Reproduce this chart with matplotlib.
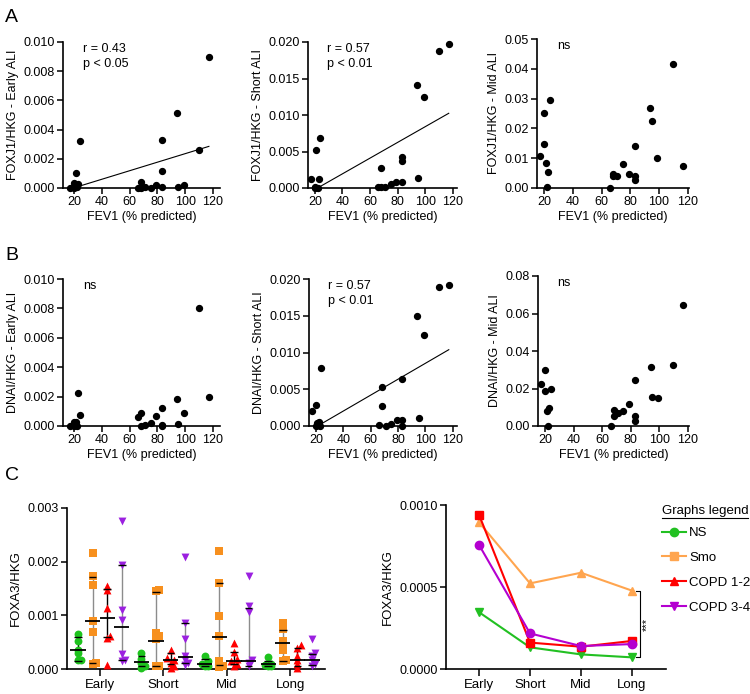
import numpy as np
import matplotlib
matplotlib.use('Agg')
import matplotlib.pyplot as plt
from matplotlib.lines import Line2D

plt.rcParams['font.family'] = ['Liberation Sans', 'DejaVu Sans']
plt.rcParams['font.size'] = 9

# FEV1 (% predicted) of the patients
fev1 = [17, 20, 20, 21, 22, 23, 24, 66, 68, 68, 71, 75, 79, 83, 83, 83, 94, 95, 99, 110, 117]

# panel A - FOXJ1/HKG
foxj1_early = [0.0, 0.00032, 0.0, 0.00105, 0.00007, 0.00025, 0.00324, 0.0, 0.0004, 0.0,
               0.00007, 0.0, 0.0002, 0.00326, 0.00119, 0.00007, 0.00514, 0.00007, 0.00023, 0.0026, 0.009]
foxj1_short = [0.00123, 0.0001, 0.0, 0.00525, 0.0, 0.00128, 0.00685, 0.0001, 0.0027, 0.0002,
               0.0001, 0.0006, 0.00078, 0.0042, 0.00375, 0.00087, 0.0141, 0.00137, 0.01247, 0.0188, 0.0197]
foxj1_mid = [0.0106, 0.0251, 0.0148, 0.0084, 0.0002, 0.0055, 0.0296, 0.0, 0.0046, 0.0041,
             0.0041, 0.0081, 0.0048, 0.0142, 0.0039, 0.0028, 0.0269, 0.0225, 0.01, 0.0415, 0.0073]

# panel B - DNAI/HKG
dnai_early = [0.0, 0.00025, 0.0, 0.0003, 0.0, 0.00222, 0.00075, 0.00059, 0.0009, 0.0,
              0.00007, 0.00018, 0.00068, 0.0012, 0.00007, 0.0, 0.00182, 0.00014, 0.0009, 0.00805, 0.00195]
dnai_short = [0.00205, 0.0, 0.0028, 0.00036, 0.0005, 0.0, 0.00795, 0.0001, 0.00527, 0.00277,
              0.00005, 0.0003, 0.0008, 0.0008, 0.00645, 0.0, 0.0149, 0.00105, 0.0124, 0.0189, 0.0192]
dnai_mid = [0.0226, 0.0297, 0.0185, 0.0082, 0.0002, 0.0094, 0.0196, 0.0002, 0.0085, 0.0053,
            0.0068, 0.008, 0.0116, 0.0244, 0.0055, 0.0028, 0.0313, 0.0156, 0.0148, 0.0327, 0.0647]

# panel C - FOXA3/HKG
times = ['Early', 'Short', 'Mid', 'Long']
groups = ['NS', 'Smo', 'COPD 1-2', 'COPD 3-4']
foxa3 = {
    'NS': [[0.00066, 0.00052, 0.00036, 0.0003, 0.00017, 0.00017],
           [0.0003, 0.00018, 0.00012, 0.00006, 0.00002],
           [0.00024, 0.00014, 0.0001, 0.00006, 0.00005],
           [0.00022, 0.0001, 0.00008, 0.00005, 0.00006]],
    'Smo': [[0.00217, 0.00173, 0.00157, 0.0009, 0.00069, 0.00011, 0.0001],
            [0.00148, 0.00145, 0.00067, 0.00061, 0.00055, 0.00006, 0.00005],
            [0.00219, 0.00161, 0.00099, 0.00061, 0.00014, 0.00006, 0.00004],
            [0.00086, 0.00075, 0.00052, 0.00045, 0.00035, 0.00017, 0.00014]],
    'COPD 1-2': [[0.00155, 0.00148, 0.00114, 0.00062, 0.00058, 0.00008],
                 [0.00036, 0.0002, 0.00017, 0.00012, 0.00005, 0.00002],
                 [0.00048, 0.00031, 0.00019, 0.00014, 0.0001, 0.00006],
                 [0.00045, 0.00039, 0.00024, 0.00017, 0.0001, 0.00002]],
    'COPD 3-4': [[0.00275, 0.00193, 0.0011, 0.00092, 0.00028, 0.00017, 0.00014],
                 [0.00209, 0.00086, 0.00055, 0.00024, 0.00017, 0.00011, 0.00008],
                 [0.00174, 0.00117, 0.00107, 0.00016, 0.00012, 0.00005],
                 [0.00055, 0.0003, 0.00024, 0.00017, 0.0001, 0.00006]],
}
foxa3_median = {'NS': [0.00035, 0.00013, 0.0001, 0.0001],
                'Smo': [0.0009, 0.00053, 0.0006, 0.00048],
                'COPD 1-2': [0.00095, 0.00017, 0.00014, 0.00017],
                'COPD 3-4': [0.00078, 0.00022, 0.00014, 0.00016]}
foxa3_q1 = {'NS': [0.00014, 0.00005, 0.00005, 0.00005],
            'Smo': [0.00011, 0.00005, 0.00008, 0.00014],
            'COPD 1-2': [0.0006, 0.0001, 0.0001, 0.00005],
            'COPD 3-4': [0.00017, 0.00011, 0.00005, 0.00007]}
foxa3_q3 = {'NS': [0.00059, 0.00024, 0.00018, 0.00015],
            'Smo': [0.00171, 0.00143, 0.0016, 0.00073],
            'COPD 1-2': [0.00149, 0.0003, 0.00031, 0.00039],
            'COPD 3-4': [0.00193, 0.00086, 0.00114, 0.00028]}
foxa3_mean = {'NS': [0.000346, 0.000132, 0.000089, 0.000071],
              'Smo': [0.000894, 0.000522, 0.000587, 0.000478],
              'COPD 1-2': [0.000939, 0.000161, 0.000136, 0.000171],
              'COPD 3-4': [0.000756, 0.000217, 0.00014, 0.000152]}

col_left = {'NS': '#1ec31e', 'Smo': '#f7901e', 'COPD 1-2': '#ff0000', 'COPD 3-4': '#9b20e0'}
mk_left = {'NS': 'o', 'Smo': 's', 'COPD 1-2': '^', 'COPD 3-4': 'v'}
bar_col = {'NS': 'black', 'Smo': '#8c8c8c', 'COPD 1-2': 'black', 'COPD 3-4': '#8c8c8c'}
col_right = {'NS': '#22c022', 'Smo': '#ffa54f', 'COPD 1-2': '#ff0000', 'COPD 3-4': '#b400d0'}
mk_right = {'NS': 'v', 'Smo': '^', 'COPD 1-2': 's', 'COPD 3-4': 'o'}

W, H = 750, 694


def box(l, r, t, b):
    return [l / W, 1 - b / H, (r - l) / W, (b - t) / H]


def style(ax, lsize=9):
    for s in ['top', 'right']:
        ax.spines[s].set_visible(False)
    for s in ['left', 'bottom']:
        ax.spines[s].set_linewidth(1.2)
    ax.tick_params(direction='out', length=4, width=1.1, labelsize=lsize, pad=2)


fig = plt.figure(figsize=(7.5, 6.94), dpi=100)

scatter_panels = [
    (box(63, 220, 42, 188), foxj1_early, 'FOXJ1/HKG - Early ALI', 0.010, 0.002, '%.3f', 'r = 0.43\np < 0.05', True, (12, 125)),
    (box(308, 457, 42, 188), foxj1_short, 'FOXJ1/HKG - Short ALI', 0.020, 0.005, '%.3f', 'r = 0.57\np < 0.01', True, (15, 123)),
    (box(537, 689, 39, 188), foxj1_mid, 'FOXJ1/HKG - Mid ALI', 0.05, 0.01, '%.2f', 'ns', False, (15, 121)),
    (box(63, 220, 279, 426), dnai_early, 'DNAI/HKG - Early ALI', 0.010, 0.002, '%.3f', 'ns', False, (12, 125)),
    (box(309, 457, 279, 426), dnai_short, 'DNAI/HKG - Short ALI', 0.020, 0.005, '%.3f', 'r = 0.57\np < 0.01', True, (15, 123)),
    (box(538, 689, 276, 426), dnai_mid, 'DNAI/HKG - Mid ALI', 0.08, 0.02, '%.2f', 'ns', False, (15, 121)),
]

for pos, yv, ylab, ymax, ystep, fmt, txt, fit, xl in scatter_panels:
    ax = fig.add_axes(pos)
    ax.scatter(fev1, yv, s=18, color='black', zorder=3, clip_on=False)
    if fit:
        b, a = np.polyfit(fev1, yv, 1)
        xs = np.array([min(fev1), max(fev1)])
        ax.plot(xs, a + b * xs, color='black', lw=0.8)
    ax.set_xlim(*xl)
    ax.set_ylim(0, ymax)
    ax.set_xticks([20, 40, 60, 80, 100, 120])
    ax.set_yticks(np.arange(0, ymax + ystep / 2, ystep))
    ax.yaxis.set_major_formatter(matplotlib.ticker.FormatStrFormatter(fmt))
    ax.set_xlabel('FEV1 (% predicted)', fontsize=9, labelpad=2)
    ax.set_ylabel(ylab, fontsize=9, labelpad=3)
    ax.text(0.13, 0.99, txt, transform=ax.transAxes, va='top', ha='left', fontsize=9, linespacing=1.3)
    style(ax)

fig.text(5 / W, 1 - 18 / H, 'A', fontsize=14, va='center')
fig.text(5 / W, 1 - 255 / H, 'B', fontsize=14, va='center')
fig.text(5 / W, 1 - 475 / H, 'C', fontsize=14, va='center')

# C left - dot plot with median and interquartile range
ax = fig.add_axes(box(67, 325, 508, 669))
x = np.arange(len(times))
off = 0.23
for gi, g in enumerate(groups):
    xc = x + (gi - 1.5) * off
    for ti in range(len(times)):
        vals = np.sort(foxa3[g][ti])
        n = len(vals)
        sp = np.zeros(n)
        for k in range(1, n):
            if vals[k] - vals[k - 1] < 0.00006:
                sp[k] = -sp[k - 1] if sp[k - 1] != 0 else 0.05
        ax.vlines(xc[ti], foxa3_q1[g][ti], foxa3_q3[g][ti], color=bar_col[g], lw=1.0, zorder=2)
        ax.scatter(xc[ti] + sp, vals, marker=mk_left[g], s=32, color=col_left[g], lw=0, zorder=3, clip_on=False)
        ax.hlines([foxa3_q1[g][ti], foxa3_q3[g][ti]], xc[ti] - 0.06, xc[ti] + 0.06, color='black', lw=1.0, zorder=4)
        ax.hlines(foxa3_median[g][ti], xc[ti] - 0.12, xc[ti] + 0.12, color='black', lw=1.3, zorder=4)
ax.set_xlim(-0.52, 3.55)
ax.set_ylim(0, 0.003)
ax.set_xticks(x)
ax.set_xticklabels(times)
ax.set_yticks([0, 0.001, 0.002, 0.003])
ax.yaxis.set_major_formatter(matplotlib.ticker.FormatStrFormatter('%.3f'))
ax.set_ylabel('FOXA3/HKG', fontsize=9.5, labelpad=4)
style(ax, 9)
ax.tick_params(axis='x', length=5, labelsize=9.5)

# C right - line plot
ax2 = fig.add_axes(box(446, 666, 505, 669))
for g in groups:
    ax2.plot(x, foxa3_mean[g], color=col_right[g], marker=mk_right[g], ms=6, lw=1.5, clip_on=False, zorder=3)
ax2.set_xlim(-0.65, 3.67)
ax2.set_ylim(0, 0.001)
ax2.set_xticks(x)
ax2.set_xticklabels(times)
ax2.set_yticks([0, 0.0005, 0.001])
ax2.yaxis.set_major_formatter(matplotlib.ticker.FormatStrFormatter('%.4f'))
ax2.set_ylabel('FOXA3/HKG', fontsize=9.5, labelpad=4)
style(ax2, 9)
ax2.tick_params(axis='x', length=5, labelsize=9.5)

# significance bracket
bx = 3.16
ytop = foxa3_mean['Smo'][3]
ybot = foxa3_mean['NS'][3]
ax2.plot([bx - 0.08, bx, bx, bx - 0.08], [ytop, ytop, ybot, ybot], color='black', lw=0.8, clip_on=False)
ax2.text(bx + 0.14, (ytop + ybot) / 2, '***', rotation=90, va='center', ha='center', fontsize=8)

# legend
handles = [Line2D([], [], color=col_right[g], marker=mk_left[g], ms=6, lw=1.5) for g in groups]
fig.legend(handles, groups, loc='upper left', bbox_to_anchor=(662 / W, 1 - 527 / H), frameon=False,
           fontsize=9.5, handlelength=1.8, handletextpad=0.25, labelspacing=0.95,
           borderpad=0, borderaxespad=0)
fig.text(662 / W, 1 - 511 / H, 'Graphs legend', fontsize=9.5, va='center')
fig.add_artist(Line2D([662 / W, 748 / W], [1 - 518 / H, 1 - 518 / H], color='black', lw=0.8))

fig.savefig('out.png', dpi=100)
